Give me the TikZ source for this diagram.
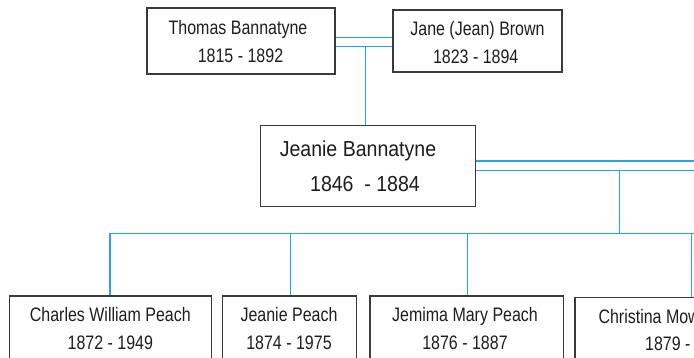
\documentclass[tikz,border=0pt]{standalone}
\usepackage{fontspec}
\newfontfamily\smallfam[FakeStretch=0.82]{Liberation Sans}
\newfontfamily\bigfam[FakeStretch=0.9]{Liberation Sans}
\definecolor{linkblue}{HTML}{1EA8E6}
\definecolor{boxgray}{HTML}{3A3A3A}
\definecolor{txtgray}{HTML}{1E1E1E}
\tikzset{
  box/.style={draw=boxgray, line width=1.2pt, fill=white, inner sep=0pt},
  link/.style={draw=linkblue, line width=1.3pt},
  txt/.style={anchor=base, inner sep=0pt, text=txtgray, font=\smallfam\fontsize{19.5}{22}\selectfont},
  bigtxt/.style={anchor=base, inner sep=0pt, text=txtgray, font=\bigfam\fontsize{21.7}{25}\selectfont}
}
\begin{document}
\begin{tikzpicture}[x=1pt,y=-1pt]
\useasboundingbox (0,0) rectangle (694,358);
\clip (0,0) rectangle (694,358);
\fill[white] (0,0) rectangle (694,358);

% boxes
\node[box, minimum width=188pt, minimum height=66pt] (thomas) at (241,41) {};
\node[box, minimum width=169pt, minimum height=62pt] (jane) at (477.5,41) {};
\node[box, minimum width=215pt, minimum height=81pt] (jeanie) at (368.2,166.2) {};
\node[box, minimum width=202pt, minimum height=100pt] (charles) at (110.3,346) {};
\node[box, minimum width=134.4pt, minimum height=100pt] (jpeach) at (289.5,346) {};
\node[box, minimum width=193.3pt, minimum height=100pt] (jemima) at (466.7,346) {};
\node[box, minimum width=180pt, minimum height=100pt] (christina) at (665,347.7) {};

% texts
\node[txt] (thomasn) at (238,34.3) {Thomas Bannatyne};
\node[txt] (thomasd) at (240.5,62.3) {1815 - 1892};
\node[txt] (janen) at (477.5,35.7) {Jane (Jean) Brown};
\node[txt] (janed) at (475.7,64) {1823 - 1894};
\node[bigtxt] (jeanien) at (358,156.7) {Jeanie Bannatyne};
\node[bigtxt] (jeanied) at (365,191.7) {1846 \ - 1884};
\node[txt] (charlesn) at (110.3,321.7) {Charles William Peach};
\node[txt] (charlesd) at (110.3,349.5) {1872 - 1949};
\node[txt] (jpeachn) at (289,321.7) {Jeanie Peach};
\node[txt] (jpeachd) at (289,349.5) {1874 - 1975};
\node[txt] (jemiman) at (465,321.7) {Jemima Mary Peach};
\node[txt] (jemimad) at (465,349.5) {1876 - 1887};
\node[txt, anchor=base west] (christinan) at (598.3,323.3) {Christina Mowat Peach};
\node[txt, anchor=base west] (christinad) at (645,351) {1879 - };

% connectors
\coordinate (tj) at (365.3,46.3);
\coordinate (jr1) at (700,161);
\coordinate (jr2) at (700,170.3);
\coordinate (kids) at (619.3,170.3);
\coordinate (bar) at (619.3,233.3);
\coordinate (barend) at (700,233.3);
\coordinate (cx) at (110,233.3);
\coordinate (jpx) at (290.7,233.3);
\coordinate (jmx) at (467.3,233.3);
\coordinate (chx) at (691.7,233.3);

\draw[link] ([shift={(0,-3.3)}]thomas.east) -- ([shift={(0,-3.3)}]jane.west);
\draw[link] ([shift={(0,5.3)}]thomas.east) -- ([shift={(0,5.3)}]jane.west);
\draw[link] (tj) -- (tj |- jeanie.north);
\draw[link] (jeanie.east |- jr1) -- (jr1);
\draw[link] (jeanie.east |- jr2) -- (jr2);
\draw[link] (kids) -- (bar);
\draw[link] (cx) -- (barend);
\draw[link] (cx) -- (cx |- charles.north);
\draw[link] (jpx) -- (jpx |- jpeach.north);
\draw[link] (jmx) -- (jmx |- jemima.north);
\draw[link] (chx) -- (chx |- christina.north);
\end{tikzpicture}
\end{document}
